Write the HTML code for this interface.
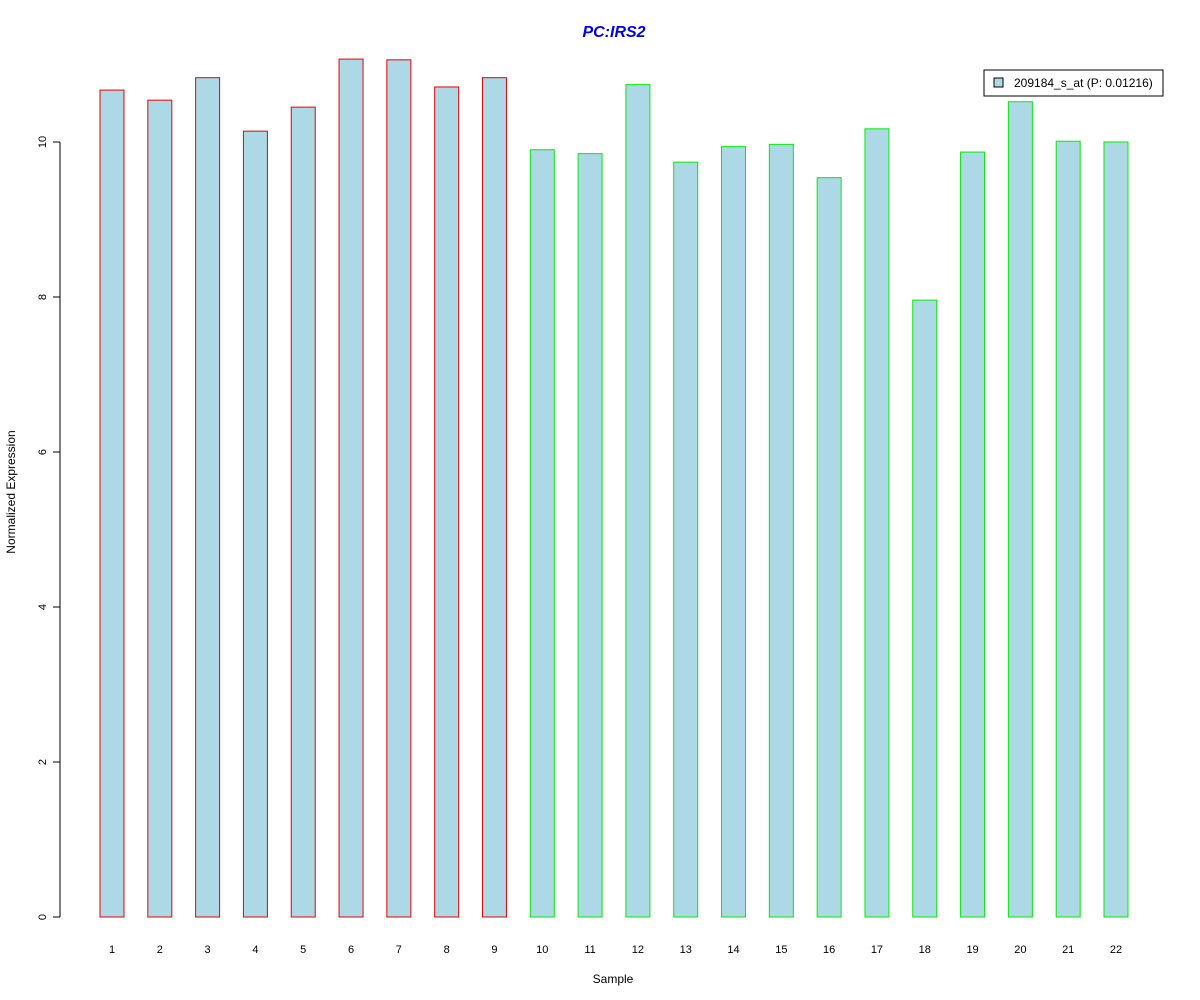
<!DOCTYPE html>
<html><head><meta charset="utf-8"><style>
body{margin:0;background:#fff;}
svg{display:block;font-family:"Liberation Sans",Arial,sans-serif;}
</style></head><body>
<svg id="chart" width="1200" height="1000" viewBox="0 0 1200 1000">
<rect width="1200" height="1000" fill="#fff"/>
<text x="614" y="37" text-anchor="middle" font-size="16" font-weight="bold" font-style="italic" fill="#0000ee">PC:IRS2</text>
<g id="yaxis"></g>
<g id="bars"></g>
<g id="xlabels"></g>
<text x="613" y="983" text-anchor="middle" font-size="12">Sample</text>
<text transform="translate(15,492) rotate(-90)" text-anchor="middle" font-size="12">Normalized Expression</text>
<g>
<rect x="984" y="70" width="179" height="26" fill="#fff" stroke="#000" stroke-width="1"/>
<rect x="994" y="78" width="9" height="9" fill="#add8e6" stroke="#000"/>
<text x="1014" y="87" font-size="12">209184_s_at (P: 0.01216)</text>
</g>
</svg>
<script>
const categories=["1","2","3","4","5","6","7","8","9","10","11","12","13","14","15","16","17","18","19","20","21","22"];
const values=[10.67,10.54,10.83,10.14,10.45,11.07,11.06,10.71,10.83,9.90,9.85,10.74,9.74,9.94,9.97,9.54,10.17,7.96,9.87,10.52,10.01,10.0];
const groups=["PC","PC","PC","PC","PC","PC","PC","PC","PC","N","N","N","N","N","N","N","N","N","N","N","N","N"];
const yTicks=[0,2,4,6,8,10];
const NS="http://www.w3.org/2000/svg";
const y=v=>917-v*77.5;
const x=i=>112+i*(1116-112)/21;
function mk(t,a,p){const e=document.createElementNS(NS,t);for(const k in a)e.setAttribute(k,a[k]);p.appendChild(e);return e;}
const ya=document.getElementById('yaxis');
mk('line',{x1:60,x2:60,y1:y(0),y2:y(10),stroke:'#000'},ya);
yTicks.forEach(t=>{
  const l=mk('line',{x1:53,x2:60,y1:y(t),y2:y(t),stroke:'#000'},ya);
  
  
  const tx=mk('text',{transform:`translate(46,${y(t)}) rotate(-90)`,'text-anchor':'middle','font-size':11},ya);
  tx.textContent=t;
  
  
});
const bg=document.getElementById('bars'),xl=document.getElementById('xlabels');
values.forEach((v,i)=>{
  const r=mk('rect',{x:x(i)-12,y:y(v),width:24,height:y(0)-y(v),fill:'#add8e6',stroke:groups[i]==="PC"?'#ee0000':'#00ee00','stroke-width':1},bg);
  
  
  const t=mk('text',{x:x(i),y:953,'text-anchor':'middle','font-size':11},xl);
  t.textContent=categories[i];
  
  
});
</script>
</body></html>
